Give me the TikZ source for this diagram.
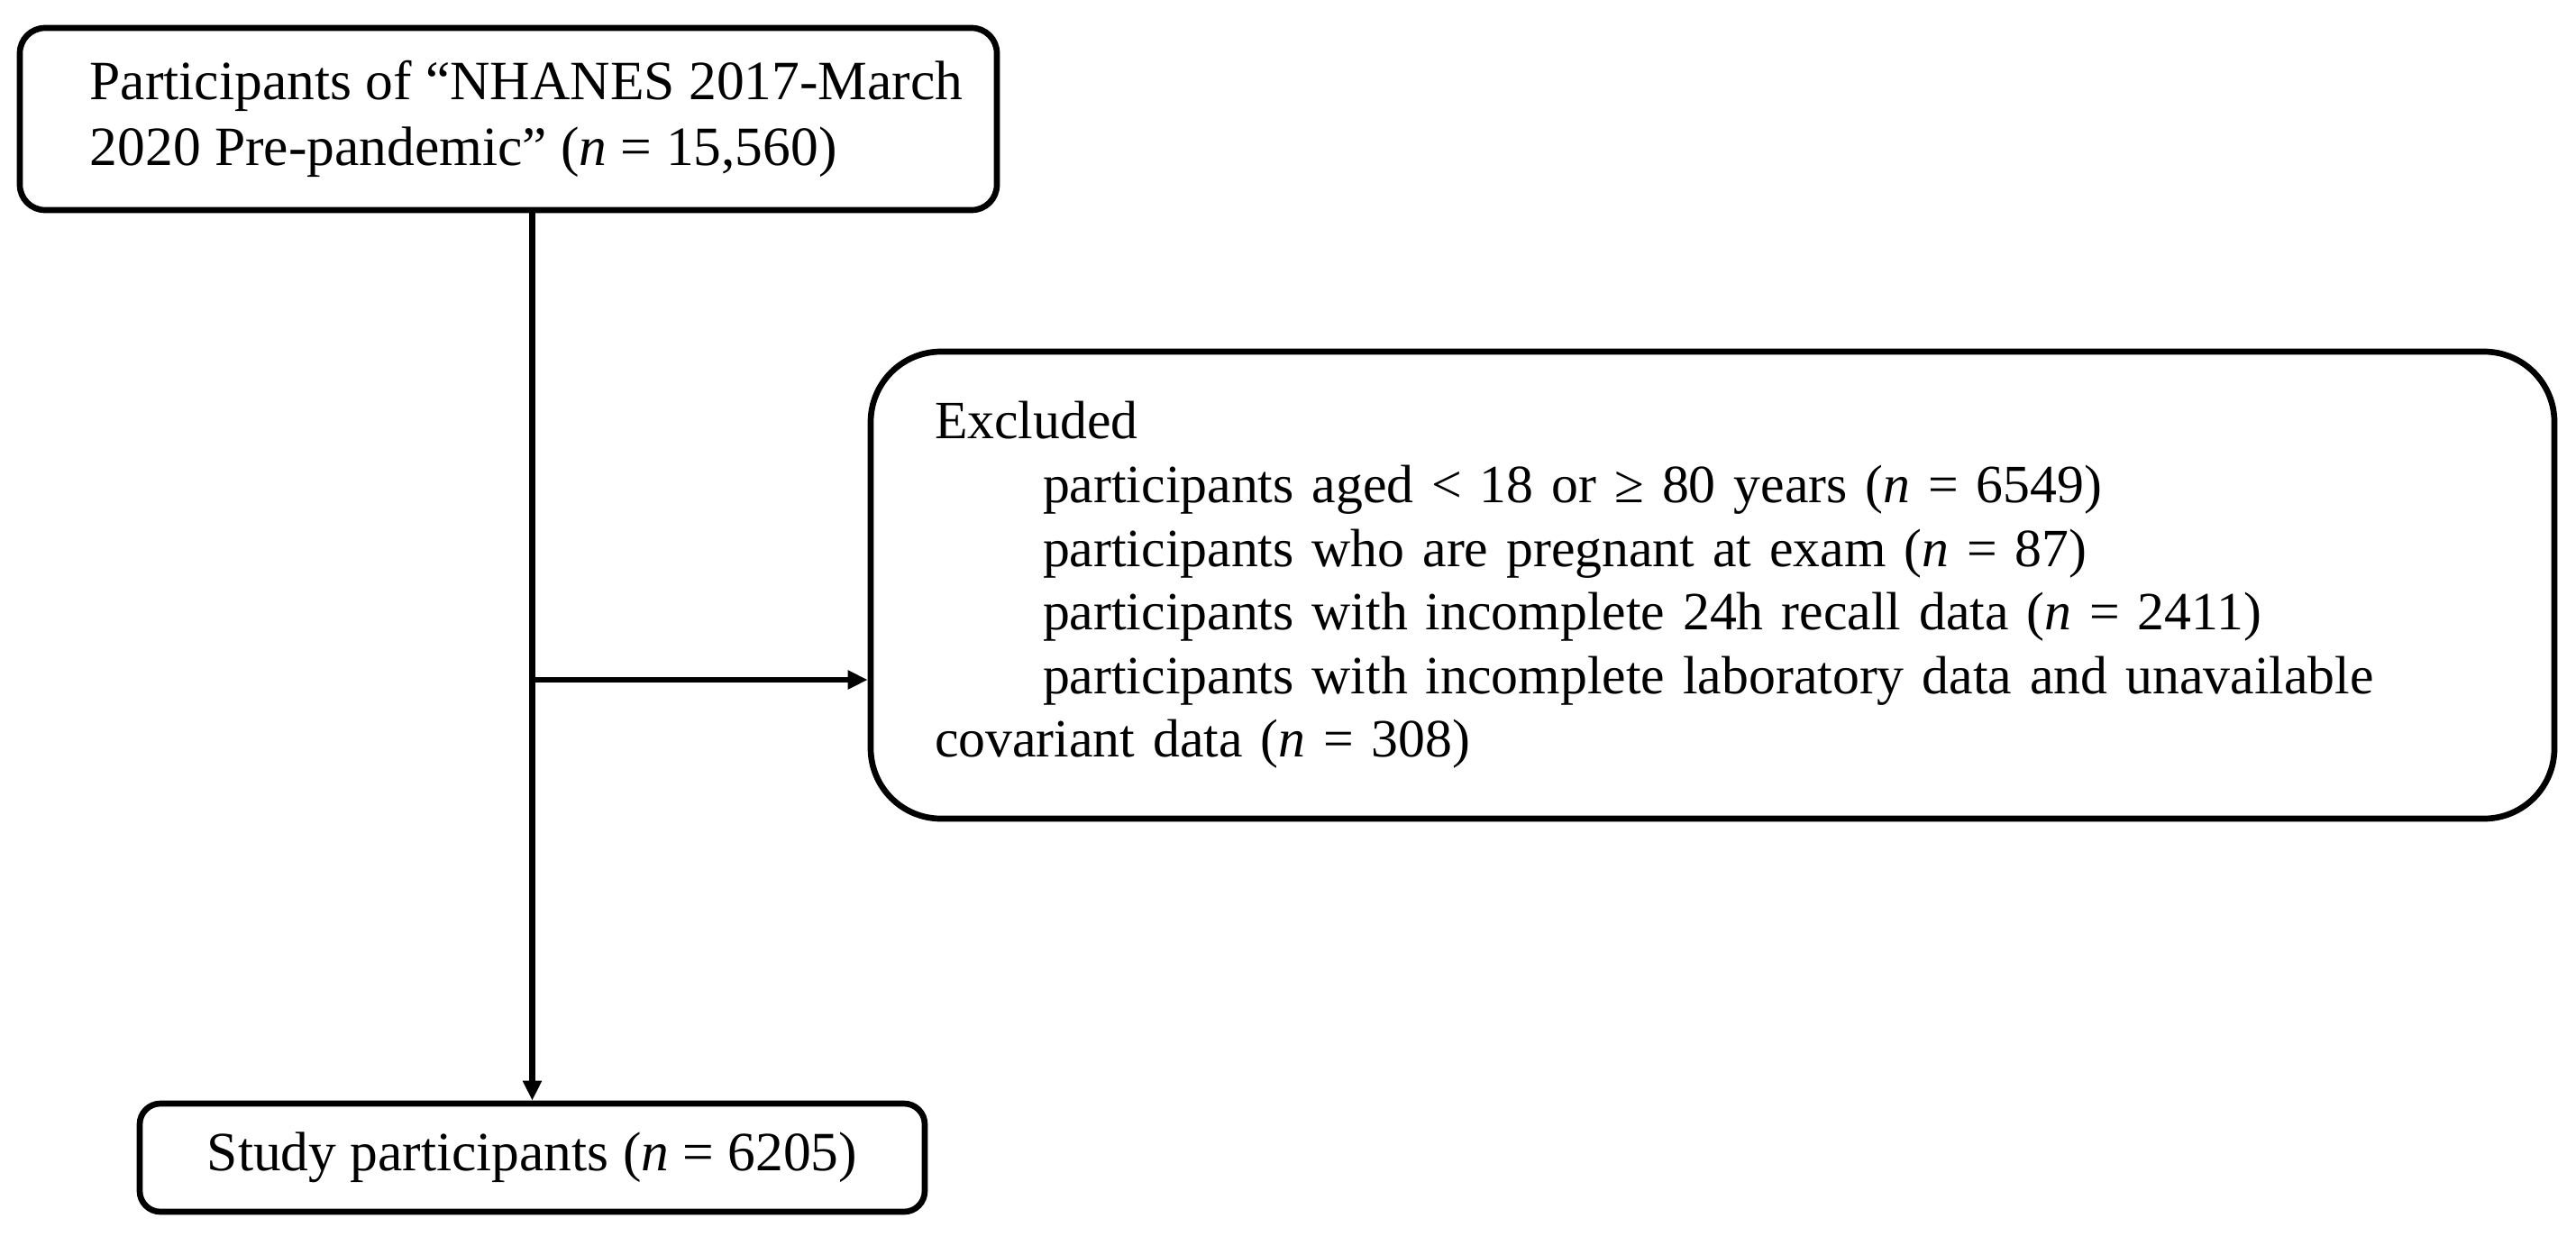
\documentclass[tikz,border=0pt]{standalone}
\usepackage{fontspec}
\setmainfont{Liberation Serif}
\usetikzlibrary{arrows.meta}
\newcommand{\nn}{\textit{n}}

\begin{document}
\begin{tikzpicture}[box/.style={rectangle, draw=black, line width=1.9pt, fill=white, align=left, font=\fontsize{17.5pt}{20.6pt}\selectfont}, flow/.style={line width=1.9pt, -{Triangle[length=0.22cm, width=0.2cm]}}]
            \useasboundingbox (0,0) rectangle (28.58,-13.71);

            \node[box, rounded corners=0.28cm, minimum width=10.84cm, minimum height=2.02cm](source) at (5.64, -1.32) {\hspace*{0.4cm}Participants of “NHANES 2017-March\\\hspace*{0.4cm}2020 Pre-pandemic” (\nn{} = 15,560)};
            \node[box, rounded corners=0.78cm, text width=17.26cm, inner xsep=0.71cm, minimum height=5.18cm, font=\fontsize{17pt}{20.1pt}\selectfont](excluded) at (19.00, -6.49) {Excluded\\
                \hspace*{1.2cm}participants aged < 18 or ≥ 80 years (\nn{} = 6549)\\
                \hspace*{1.2cm}participants who are pregnant at exam (\nn{} = 87)\\
                \hspace*{1.2cm}participants with incomplete 24h recall data (\nn{} = 2411)\\
                \hspace*{1.2cm}participants with incomplete laboratory data and unavailable\\
                covariant data (\nn{} = 308)};
            \node[box, rounded corners=0.23cm, minimum width=8.71cm, minimum height=1.2cm](study) at (5.905, -12.84) {Study participants (\nn{} = 6205)};

            \coordinate (branch) at (5.905, -7.54);

            \draw[flow] (source.south -| study.north) to (study.north);
            \draw[flow] (branch) to (branch -| excluded.west);
        \end{tikzpicture}
\end{document}
